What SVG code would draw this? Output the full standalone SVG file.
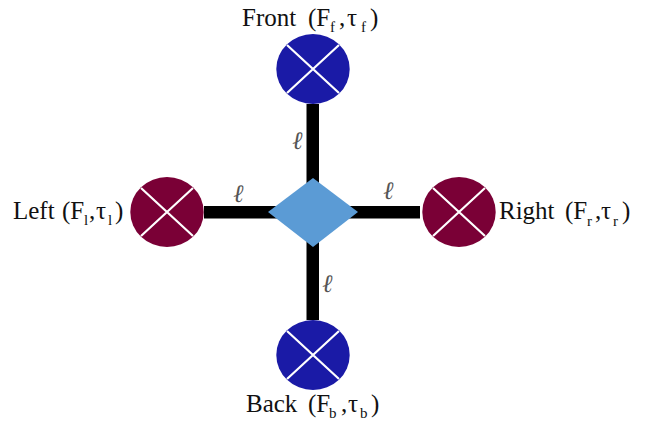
<svg xmlns="http://www.w3.org/2000/svg" width="645" height="421" viewBox="0 0 645 421">
<style>
text{font-family:"Liberation Serif","Times New Roman",serif;font-size:25px;fill:#111}
.s{font-size:15px}
.e{font-size:25px;font-style:italic;fill:#555}
.arm{fill:#000}
.x{stroke:#fff;stroke-width:2.2;fill:none}
.blue{fill:#1a1aa6}
.red{fill:#7a0036}
</style>
<defs>
<g id="rotor"><ellipse rx="36.700" ry="35"/><path class="x" d="M-26-24L26 24M26-24L-26 24"/></g>
</defs>
<g id="connectors">
<rect class="arm" x="306.500" y="104" width="12.500" height="85"/>
<rect class="arm" x="306.500" y="235" width="12.500" height="85"/>
<rect class="arm" x="204" y="206" width="75" height="12.500"/>
<rect class="arm" x="345" y="206" width="75" height="12.500"/>
</g>
<g id="hub"><polygon points="313,178 358,212 313,247 268,212" fill="#5b9bd5"/></g>
<g id="front"><use href="#rotor" class="blue" x="313" y="69"/>
<text x="242" y="26">Front</text><text x="308" y="26">(F</text><text class="s" x="330" y="32">f</text><text x="339" y="26">,</text><text x="347" y="26">τ</text><text class="s" x="361" y="32">f</text><text x="370" y="26">)</text></g>
<g id="back"><use href="#rotor" class="blue" x="313" y="355"/>
<text x="246" y="412">Back</text><text x="308" y="412">(F</text><text class="s" x="329" y="418">b</text><text x="341" y="412">,</text><text x="348" y="412">τ</text><text class="s" x="360" y="418">b</text><text x="371" y="412">)</text></g>
<g id="left"><use href="#rotor" class="red" x="167" y="212"/>
<text x="13" y="219">Left</text><text x="62" y="219">(F</text><text class="s" x="84" y="225">l</text><text x="89" y="219">,</text><text x="96" y="219">τ</text><text class="s" x="108" y="225">l</text><text x="115" y="219">)</text></g>
<g id="right"><use href="#rotor" class="red" x="459" y="212"/>
<text x="499" y="219">Right</text><text x="565" y="219">(F</text><text class="s" x="587" y="226">r</text><text x="595" y="219">,</text><text x="601" y="219">τ</text><text class="s" x="613" y="226">r</text><text x="622" y="219">)</text></g>
<g id="labels">
<text class="e" x="292" y="149">ℓ</text>
<text class="e" x="233" y="202">ℓ</text>
<text class="e" x="383" y="199">ℓ</text>
<text class="e" x="322" y="292">ℓ</text>
</g>
</svg>
